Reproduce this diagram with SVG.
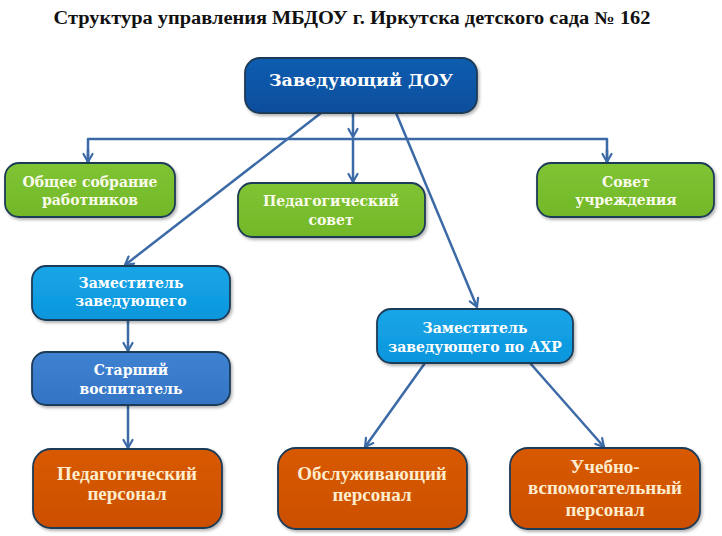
<svg xmlns="http://www.w3.org/2000/svg" width="722" height="536" viewBox="0 0 722 536">
  <defs>
    <style>
      .box { stroke: #1d3a57; stroke-width: 1.8; filter: url(#shadow); }
      .t { font-family: "DejaVu Serif", "Liberation Serif", serif; font-weight: bold; font-size: 14px; text-anchor: middle; fill: #ffffff; }
      .tg { fill: #fbfbec; }
      .to { font-family: "Liberation Serif", "DejaVu Serif", serif; font-weight: bold; font-size: 19px; text-anchor: middle; fill: #fdeccd; }
      .conn line, .conn polyline { stroke: #3b6aa6; stroke-width: 2.5; fill: none; }
      .arr { marker-end: url(#ah); }
      .title { font-family: "Liberation Serif", serif; font-weight: bold; font-size: 18px; text-anchor: middle; fill: #111111; }
    </style>
    <filter id="shadow" x="-10%" y="-10%" width="125%" height="130%">
      <feDropShadow dx="1.5" dy="2" stdDeviation="1.5" flood-color="#000000" flood-opacity="0.3"/>
    </filter>
    <linearGradient id="gDark" x1="0" y1="0" x2="0" y2="1">
      <stop offset="0" stop-color="#0c5db0"/>
      <stop offset="1" stop-color="#0a4e9c"/>
    </linearGradient>
    <linearGradient id="gGreen" x1="0" y1="0" x2="0" y2="1">
      <stop offset="0" stop-color="#80c434"/>
      <stop offset="1" stop-color="#72b828"/>
    </linearGradient>
    <linearGradient id="gCyan" x1="0" y1="0" x2="0" y2="1">
      <stop offset="0" stop-color="#18a6e8"/>
      <stop offset="1" stop-color="#0c96dc"/>
    </linearGradient>
    <linearGradient id="gMid" x1="0" y1="0" x2="0" y2="1">
      <stop offset="0" stop-color="#3f82d2"/>
      <stop offset="1" stop-color="#3474c4"/>
    </linearGradient>
    <linearGradient id="gOrange" x1="0" y1="0" x2="0" y2="1">
      <stop offset="0" stop-color="#d85a04"/>
      <stop offset="1" stop-color="#cc4f00"/>
    </linearGradient>
    <marker id="ah" viewBox="0 0 12 12" refX="10" refY="6" markerWidth="12" markerHeight="12" markerUnits="userSpaceOnUse" orient="auto">
      <path d="M2,1.5 L10,6 L2,10.5" fill="none" stroke="#3b6aa6" stroke-width="2.2" stroke-linecap="round" stroke-linejoin="round"/>
    </marker>
  </defs>

  <rect width="722" height="536" fill="#ffffff"/>

  <text class="title" x="352" y="24" textLength="597" lengthAdjust="spacingAndGlyphs">Структура управления МБДОУ г. Иркутска детского сада № 162</text>

  <g class="conn" id="connectors">
    <polyline points="88,163 88,139 607,139 607,163" stroke-linejoin="round"/>
    <line x1="88" y1="150" x2="88" y2="162" class="arr"/>
    <line x1="607" y1="150" x2="607" y2="162" class="arr"/>
    <line x1="353" y1="113" x2="353" y2="137" class="arr"/>
    <line x1="353" y1="139" x2="353" y2="182" class="arr"/>
    <line x1="321" y1="113" x2="125" y2="265" class="arr"/>
    <line x1="394" y1="108" x2="477" y2="307" class="arr"/>
    <line x1="128" y1="320" x2="128" y2="351" class="arr"/>
    <line x1="128" y1="405" x2="128" y2="448" class="arr"/>
    <line x1="425" y1="363" x2="365" y2="447" class="arr"/>
    <line x1="530" y1="363" x2="604" y2="447" class="arr"/>
  </g>

  <g id="node-head">
    <rect class="box" x="245" y="58" width="232" height="55" rx="15" fill="url(#gDark)"/>
    <text class="t" x="361" y="86" style="font-size:17.5px">Заведующий ДОУ</text>
  </g>

  <g id="node-general-meeting">
    <rect class="box" x="5" y="163" width="170" height="54" rx="14" fill="url(#gGreen)"/>
    <text class="t tg" x="90" y="187">Общее собрание</text>
    <text class="t tg" x="90" y="205">работников</text>
  </g>

  <g id="node-ped-council">
    <rect class="box" x="238" y="183" width="187" height="54" rx="14" fill="url(#gGreen)"/>
    <text class="t tg" x="331" y="206">Педагогический</text>
    <text class="t tg" x="331" y="225">совет</text>
  </g>

  <g id="node-council">
    <rect class="box" x="537" y="163" width="177" height="54" rx="14" fill="url(#gGreen)"/>
    <text class="t tg" x="626" y="187">Совет</text>
    <text class="t tg" x="626" y="205">учреждения</text>
  </g>

  <g id="node-deputy">
    <rect class="box" x="32" y="266" width="198" height="54" rx="14" fill="url(#gCyan)"/>
    <text class="t" x="131" y="288">Заместитель</text>
    <text class="t" x="131" y="306">заведующего</text>
  </g>

  <g id="node-senior">
    <rect class="box" x="32" y="352" width="198" height="53" rx="14" fill="url(#gMid)"/>
    <text class="t" x="131" y="375">Старший</text>
    <text class="t" x="131" y="394">воспитатель</text>
  </g>

  <g id="node-ped-staff">
    <rect class="box" x="33" y="449" width="189" height="79" rx="18" fill="url(#gOrange)"/>
    <text class="to" x="127" y="480">Педагогический</text>
    <text class="to" x="127" y="500">персонал</text>
  </g>

  <g id="node-deputy-ahr">
    <rect class="box" x="377" y="309" width="196" height="54" rx="14" fill="url(#gCyan)"/>
    <text class="t" x="475" y="333">Заместитель</text>
    <text class="t" x="475" y="352">заведующего по АХР</text>
  </g>

  <g id="node-service-staff">
    <rect class="box" x="278" y="448" width="189" height="81" rx="18" fill="url(#gOrange)"/>
    <text class="to" x="372" y="480">Обслуживающий</text>
    <text class="to" x="372" y="501">персонал</text>
  </g>

  <g id="node-aux-staff">
    <rect class="box" x="510" y="448" width="190" height="81" rx="18" fill="url(#gOrange)"/>
    <text class="to" x="605" y="473">Учебно-</text>
    <text class="to" x="605" y="494">вспомогательный</text>
    <text class="to" x="605" y="516">персонал</text>
  </g>
</svg>
